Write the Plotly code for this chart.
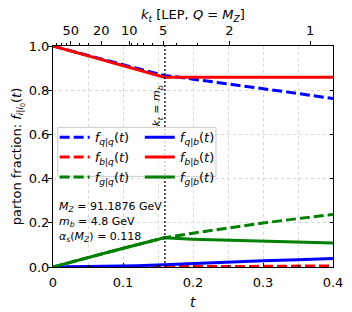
import numpy as np
import plotly.graph_objects as go

# ---- data ----
t_vals = [0.0, 0.04, 0.08, 0.12, 0.159, 0.2, 0.25, 0.3, 0.35, 0.4]
f_qq = [1.0, 0.965, 0.932, 0.899, 0.867, 0.850, 0.829, 0.807, 0.785, 0.762]
f_bq = [0.0, 0.0, 0.0, 0.0, 0.0, 0.001, 0.002, 0.003, 0.004, 0.005]
f_gq = [0.0, 0.035, 0.068, 0.101, 0.132, 0.153, 0.177, 0.199, 0.219, 0.238]
f_qb = [0.0, 0.001, 0.003, 0.006, 0.010, 0.016, 0.022, 0.028, 0.033, 0.038]
f_bb = [1.0, 0.964, 0.929, 0.893, 0.859, 0.859, 0.859, 0.859, 0.859, 0.859]
f_gb = [0.0, 0.035, 0.068, 0.101, 0.132, 0.126, 0.121, 0.117, 0.113, 0.109]

x_ticks = [0, 0.1, 0.2, 0.3, 0.4]
x_ticktext = ["0", "0.1", "0.2", "0.3", "0.4"]
y_ticks = [0, 0.2, 0.4, 0.6, 0.8, 1.0]

MZ = 91.1876
mb = 4.8
kt_major = [50, 20, 10, 5, 2, 1]
kt_major_t = [0.0253, 0.0690, 0.1088, 0.1575, 0.2520, 0.3675]
kt_minor = [90, 80, 70, 60, 40, 30, 9, 8, 7, 6, 4, 3]

# mapping kt -> t (smooth fit through the measured top-axis tick positions)
L_major = np.log(MZ / np.array(kt_major, dtype=float))
coef = np.polyfit(np.concatenate([[0.0], L_major]), np.concatenate([[0.0], kt_major_t]), 3)
def t_of_kt(kt):
    return float(np.polyval(coef, np.log(MZ / kt)))

kt_minor_t = [t_of_kt(k) for k in kt_minor]
t_mb = t_of_kt(mb)

FONT = "DejaVu Sans"
BLUE, RED, GREEN = "#0000ff", "#ff0000", "#008000"
DASH = "10px,4px"
LW = 3

def lab(a, b):
    return f"<i>f</i><sub><i>{a}</i>|<i>{b}</i></sub>(<i>t</i>)"

fig = go.Figure()
series = [
    (f_qq, BLUE, DASH, lab("q", "q"), "legend"),
    (f_bq, RED, DASH, lab("b", "q"), "legend"),
    (f_gq, GREEN, DASH, lab("g", "q"), "legend"),
    (f_qb, BLUE, "solid", lab("q", "b"), "legend2"),
    (f_bb, RED, "solid", lab("b", "b"), "legend2"),
    (f_gb, GREEN, "solid", lab("g", "b"), "legend2"),
]
for ys, col, dash, name, lg in series:
    fig.add_trace(go.Scatter(x=t_vals, y=ys, mode="lines", name=name, legend=lg,
                             line=dict(color=col, width=LW, dash=dash)))

# kt = mb vertical line (on the overlay axes)
fig.add_trace(go.Scatter(x=[t_mb, t_mb], y=[0, 1], mode="lines", xaxis="x2", yaxis="y2",
                         showlegend=False, line=dict(color="black", width=1.3, dash="2px,2px")))

grid = dict(gridcolor="#d8d8d8", griddash="dot", gridwidth=1)

# page body has an 8px margin: figure is 344x304 so it lands on the 352x312 window
fig.update_layout(
    width=344, height=304,
    margin=dict(l=45, r=19, t=38, b=45),
    paper_bgcolor="white", plot_bgcolor="white",
    font=dict(family=FONT, size=13, color="black"),
    xaxis=dict(range=[0, 0.4], tickmode="array", tickvals=x_ticks, ticktext=x_ticktext,
               ticks="inside", ticklen=4, tickcolor="black", showline=True, linecolor="black",
               linewidth=1, zeroline=False, showgrid=True, automargin=False, ticklabelstandoff=3,
               **grid,
               minor=dict(dtick=0.05, ticks="inside", ticklen=2, tickcolor="black",
                          showgrid=True, **grid)),
    xaxis2=dict(range=[0, 0.4], overlaying="x", side="top", tickmode="array",
                tickvals=kt_major_t, ticktext=[str(k) for k in kt_major],
                ticks="outside", ticklen=4, tickcolor="black", showline=True, linecolor="black",
                linewidth=1, showgrid=False, zeroline=False, automargin=False, ticklabelstandoff=1,
                minor=dict(tickmode="array", tickvals=kt_minor_t, ticks="outside", ticklen=2,
                           tickcolor="black", showgrid=False)),
    yaxis=dict(range=[0, 1], tickmode="array", tickvals=y_ticks, tickformat=".1f",
               ticks="outside", ticklen=4, tickcolor="black", showline=True, linecolor="black",
               linewidth=1, zeroline=False, showgrid=True, automargin=False, ticklabelstandoff=-4,
               **grid,
               title=dict(text="parton fraction: <i>f</i><sub><i>i</i>|<i>i</i><sub>0</sub></sub>(<i>t</i>)",
                          font=dict(size=13), standoff=4)),
    yaxis2=dict(range=[0, 1], overlaying="y", side="right", tickmode="array", tickvals=y_ticks,
                ticks="inside", ticklen=3, tickcolor="black", showticklabels=False, automargin=False,
                showline=True, linecolor="black", linewidth=1, showgrid=False, zeroline=False),
    legend=dict(x=0.006, y=0.655, xanchor="left", yanchor="top", bgcolor="rgba(0,0,0,0)",
                borderwidth=0, font=dict(size=13), itemwidth=30, tracegroupgap=0),
    legend2=dict(x=0.31, y=0.655, xanchor="left", yanchor="top", bgcolor="rgba(0,0,0,0)",
                 borderwidth=0, font=dict(size=13), itemwidth=30, tracegroupgap=0),
    showlegend=True,
)

# axis titles
fig.add_annotation(x=0.5, y=-0.16, xref="paper", yref="paper", yanchor="middle",
                   text="<i>t</i>", showarrow=False, font=dict(family=FONT, size=14))
fig.add_annotation(x=0.5, y=1.137, xref="paper", yref="paper", yanchor="middle",
                   text="<i>k</i><sub><i>t</i></sub> [LEP, <i>Q</i> = <i>M</i><sub><i>Z</i></sub>]",
                   showarrow=False, font=dict(family=FONT, size=13))

# legend frame
fig.add_shape(type="rect", xref="paper", yref="paper", x0=0.017, x1=0.582, y0=0.41, y1=0.632,
              line=dict(color="#cccccc", width=1), fillcolor="rgba(255,255,255,0.8)", layer="above")

ann_font = dict(family=FONT, size=11, color="black")
fig.add_annotation(x=t_mb, y=0.73, xref="x", yref="y", textangle=-90, xshift=-8,
                   text="<i>k</i><sub><i>t</i></sub> = <i>m</i><sub><i>b</i></sub>",
                   showarrow=False, font=dict(family=FONT, size=11, color="black"))
info = [
    ("<i>M</i><sub><i>Z</i></sub> = %s GeV" % MZ, 0.272),
    ("<i>m</i><sub><i>b</i></sub> = %s GeV" % mb, 0.204),
    ("<i>α</i><sub><i>s</i></sub>(<i>M</i><sub><i>Z</i></sub>) = 0.118", 0.136),
]
for txt, yy in info:
    fig.add_annotation(x=0.006, y=yy, xref="x", yref="y", xanchor="left", yanchor="middle",
                       text=txt, showarrow=False, font=ann_font)

fig.write_html("out.html")
